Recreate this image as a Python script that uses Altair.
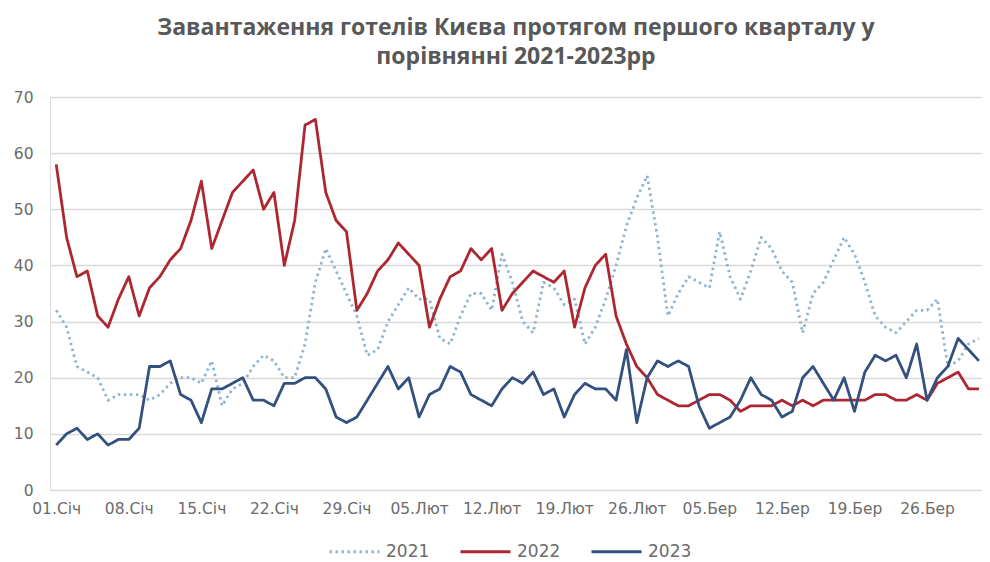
import altair as alt
import pandas as pd

# --- data (days 0..89 = 01 Jan .. 31 Mar) ---
series_names = ["2021", "2022", "2023"]

values_2021 = [32, 29, 22, 21, 20, 16, 17, 17, 17, 16, 17, 19, 20, 20, 19, 23, 15, 18, 19, 22,
               24, 23, 20, 20, 26, 37, 43, 39, 35, 31, 24, 25, 30, 33, 36, 34, 34, 27, 26, 31,
               35, 35, 32, 42, 37, 30, 28, 37, 36, 33, 34, 26, 29, 34, 40, 47, 52, 56, 45, 31,
               35, 38, 37, 36, 46, 38, 34, 39, 45, 43, 39, 37, 28, 35, 37, 41, 45, 42, 37, 31,
               29, 28, 30, 32, 32, 34, 22, 23, 26, 27]

values_2022 = [58, 45, 38, 39, 31, 29, 34, 38, 31, 36, 38, 41, 43, 48, 55, 43, 48, 53, 55, 57,
               50, 53, 40, 48, 65, 66, 53, 48, 46, 32, 35, 39, 41, 44, 42, 40, 29, 34, 38, 39,
               43, 41, 43, 32, 35, 37, 39, 38, 37, 39, 29, 36, 40, 42, 31, 26, 22, 20, 17, 16,
               15, 15, 16, 17, 17, 16, 14, 15, 15, 15, 16, 15, 16, 15, 16, 16, 16, 16, 16, 17,
               17, 16, 16, 17, 16, 19, 20, 21, 18, 18]

values_2023 = [8, 10, 11, 9, 10, 8, 9, 9, 11, 22, 22, 23, 17, 16, 12, 18, 18, 19, 20, 16,
               16, 15, 19, 19, 20, 20, 18, 13, 12, 13, 16, 19, 22, 18, 20, 13, 17, 18, 22, 21,
               17, 16, 15, 18, 20, 19, 21, 17, 18, 13, 17, 19, 18, 18, 16, 25, 12, 20, 23, 22,
               23, 22, 15, 11, 12, 13, 16, 20, 17, 16, 13, 14, 20, 22, 19, 16, 20, 14, 21, 24,
               23, 24, 20, 26, 16, 20, 22, 27, 25, 23]

tick_days = [0, 7, 14, 21, 28, 35, 42, 49, 56, 63, 70, 77, 84]
tick_labels = ["01.Січ", "08.Січ", "15.Січ", "22.Січ", "29.Січ", "05.Лют", "12.Лют",
               "19.Лют", "26.Лют", "05.Бер", "12.Бер", "19.Бер", "26.Бер"]

title_lines = ["Завантаження готелів Києва протягом першого кварталу у",
               "порівнянні 2021-2023рр"]

rows = []
for name, vals in zip(series_names, [values_2021, values_2022, values_2023]):
    for d, v in enumerate(vals):
        rows.append({"day": d, "value": v, "series": name})
df = pd.DataFrame(rows)

label_expr = "[" + ",".join("'" + t + "'" for t in tick_labels) + "][round(datum.value/7)]"

colors = ["#8fb3cc", "#ad2730", "#33507f"]
dashes = [[2.4, 3.6], [1, 0], [1, 0]]
widths = [2.8, 2.8, 3.2]

chart = alt.Chart(df).mark_line(strokeJoin="round").encode(
    x=alt.X("day:Q",
            scale=alt.Scale(domain=[-0.6, 89.3], nice=False, zero=False),
            axis=alt.Axis(values=tick_days, labelExpr=label_expr, title=None,
                          grid=False, ticks=False, domain=False,
                          labelFont="DejaVu Sans", labelFontSize=15.5,
                          labelColor="#6b6b6b", labelPadding=11)),
    y=alt.Y("value:Q",
            scale=alt.Scale(domain=[0, 70], nice=False),
            axis=alt.Axis(values=[0, 10, 20, 30, 40, 50, 60, 70], title=None,
                          grid=True, gridColor="#d9d9d9", gridWidth=1.3,
                          ticks=False, domain=False,
                          labelFont="DejaVu Sans", labelFontSize=15.5,
                          labelColor="#6b6b6b", labelPadding=17)),
    color=alt.Color("series:N",
                    scale=alt.Scale(domain=series_names, range=colors),
                    legend=alt.Legend(title=None, orient="none", direction="horizontal",
                                      legendX=278, legendY=428,
                                      symbolType="stroke", symbolSize=2500,
                                      symbolStrokeWidth=3, labelOffset=5,
                                      columnPadding=24,
                                      labelFont="DejaVu Sans", labelFontSize=17,
                                      labelColor="#6b6b6b")),
    strokeDash=alt.StrokeDash("series:N",
                              scale=alt.Scale(domain=series_names, range=dashes),
                              legend=None),
    strokeWidth=alt.StrokeWidth("series:N",
                                scale=alt.Scale(domain=series_names, range=widths),
                                legend=None),
    order="day:Q",
).properties(
    width=932,
    height=393,
    title=alt.TitleParams(text=title_lines, anchor="middle", font="Open Sans",
                          fontSize=23, fontWeight="bold", color="#585858",
                          lineHeight=29, offset=21),
    autosize=alt.AutoSizeParams(type="none"),
    padding={"left": 42, "top": 89, "right": 0, "bottom": 70},
).configure_view(stroke=None).configure(background="white")

chart.save("out.html", embed_options={"renderer": "svg", "actions": False})
